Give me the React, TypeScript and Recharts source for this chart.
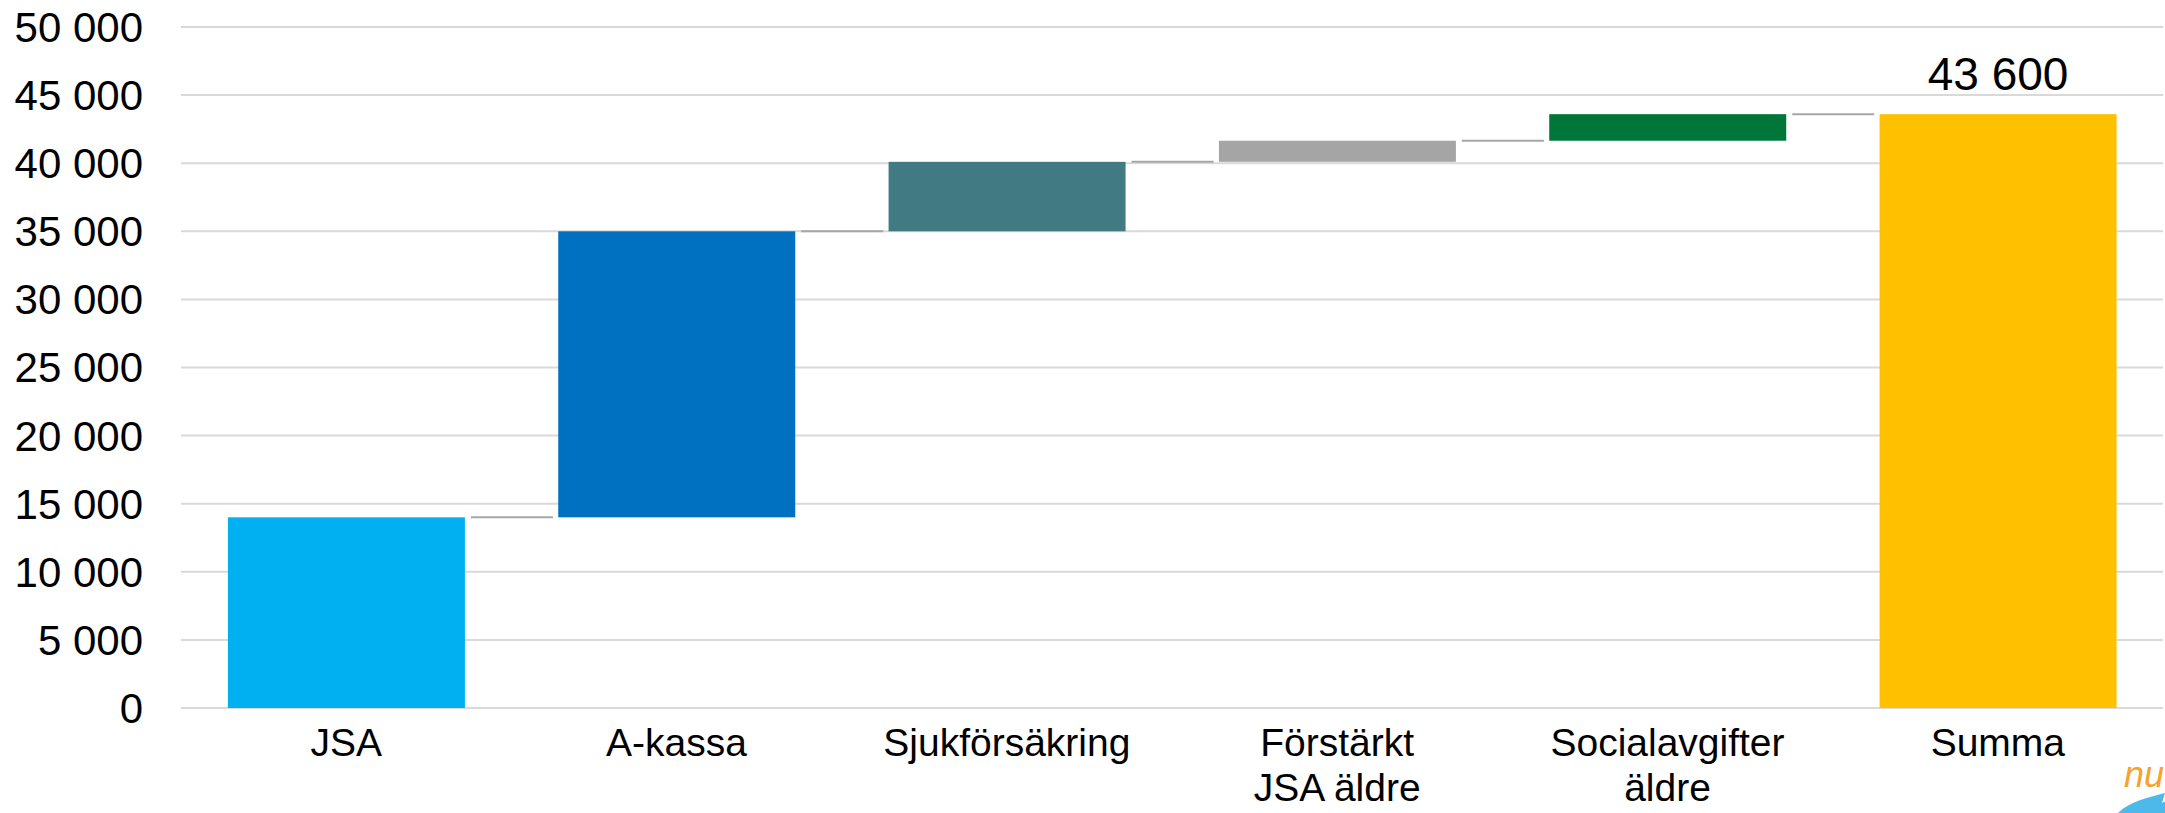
import React from 'react';
import { BarChart, Bar, XAxis, YAxis, CartesianGrid, Cell, LabelList } from 'recharts';

const categories = ['JSA', 'A-kassa', 'Sjukförsäkring', 'Förstärkt\nJSA äldre', 'Socialavgifter\näldre', 'Summa'];
const steps = [14000, 21000, 5100, 1550, 1950];
const total = 43600;
const yTicks = [0, 5000, 10000, 15000, 20000, 25000, 30000, 35000, 40000, 45000, 50000];
const colors = ['#00B0F0', '#0070C0', '#417A83', '#A5A5A5', '#00763A', '#FFC000'];

const CAT_GAP = 0.142;
const FONT = '"Liberation Sans", Arial, Helvetica, sans-serif';

// invisible base + visible step, last one is the total from zero
let running = 0;
const data = categories.map((name, i) => {
  if (i === categories.length - 1) {
    return { name, base: 0, value: total };
  }
  const row = { name, base: running, value: steps[i] };
  running += steps[i];
  return row;
});

const fmt = (v: number) => String(v).replace(/\B(?=(\d{3})+(?!\d))/g, ' ');

const StepBar = (props: any) => {
  const { x, y, width, height, index } = props;
  const gap = (width * 2 * CAT_GAP) / (1 - 2 * CAT_GAP);
  return (
    <g>
      <rect x={x} y={y} width={width} height={height} fill={colors[index]} />
      {index < categories.length - 1 && (
        <line
          x1={x + width + 6}
          x2={x + width + gap - 6}
          y1={y}
          y2={y}
          stroke="#A6A6A6"
          strokeWidth={2}
        />
      )}
    </g>
  );
};

const XTick = (props: any) => {
  const { x, y, payload } = props;
  const lines = String(payload.value).split('\n');
  return (
    <g>
      {lines.map((line, i) => (
        <text
          key={i}
          x={x}
          y={y + 48 + i * 45}
          textAnchor="middle"
          fontSize={39}
          fontFamily={FONT}
          fill="#000"
        >
          {line}
        </text>
      ))}
    </g>
  );
};

const TotalLabel = (props: any) => {
  const { x, y, width, index, value } = props;
  if (index !== categories.length - 1) return null;
  return (
    <text
      x={x + width / 2}
      y={y - 24}
      textAnchor="middle"
      fontSize={46}
      fontFamily={FONT}
      fill="#000"
    >
      {fmt(value)}
    </text>
  );
};

export default function App() {
  return (
    <div style={{ position: 'absolute', left: 0, top: 0, width: 2165, height: 813, background: '#fff' }}>
      <BarChart
        width={2165}
        height={813}
        data={data}
        margin={{ top: 27, right: 2, left: 0, bottom: 0 }}
        barCategoryGap={`${CAT_GAP * 100}%`}
      >
        <CartesianGrid vertical={false} stroke="#D9D9D9" strokeWidth={2} />
        <XAxis
          dataKey="name"
          axisLine={false}
          tickLine={false}
          tickSize={0}
          tickMargin={0}
          height={105}
          interval={0}
          tick={<XTick />}
        />
        <YAxis
          domain={[0, 50000]}
          ticks={yTicks}
          tickFormatter={fmt}
          axisLine={false}
          tickLine={false}
          tickSize={0}
          tickMargin={38}
          width={181}
          tick={{ fontSize: 42, fill: '#000', fontFamily: FONT }}
        />
        <Bar dataKey="base" stackId="w" fill="transparent" isAnimationActive={false} />
        <Bar dataKey="value" stackId="w" shape={<StepBar />} isAnimationActive={false}>
          {data.map((d, i) => (
            <Cell key={d.name} fill={colors[i]} />
          ))}
          <LabelList dataKey="value" content={<TotalLabel />} />
        </Bar>
      </BarChart>
      <svg
        width={60}
        height={60}
        style={{ position: 'absolute', left: 2110, top: 753 }}
      >
        <path d="M8 60 C 20 48, 40 44, 55 40 L 52 50 L 60 46 L 60 60 Z" fill="#4DB8EA" />
        <text x={14} y={34} fontSize={36} fontStyle="italic" fontFamily={FONT} fill="#F5A32A">
          nu
        </text>
      </svg>
    </div>
  );
}
